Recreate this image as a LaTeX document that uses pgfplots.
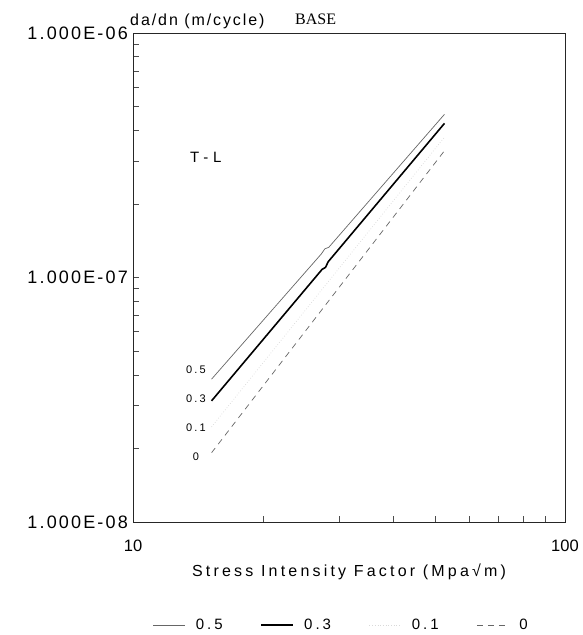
\documentclass[border=0pt]{standalone}
\usepackage{fontspec}
\setmainfont{Liberation Sans}
\newfontfamily\lsA[LetterSpace=12]{Liberation Sans}
\newfontfamily\lsB[LetterSpace=20]{Liberation Sans}
\newfontfamily\lsC[LetterSpace=32]{Liberation Sans}
\newfontfamily\lsD[LetterSpace=20]{Liberation Sans}
\newfontfamily\serifB{Liberation Serif}
\usepackage{pgfplots}
\pgfplotsset{compat=1.18}
\begin{document}
\begin{tikzpicture}[x=1pt,y=1pt]
\path[use as bounding box] (0,0) rectangle (583,635);
\begin{axis}[
  at={(133pt,113pt)}, anchor=south west,
  scale only axis, width=432pt, height=489pt,
  xmode=log, ymode=log,
  xmin=10, xmax=100, ymin=1e-8, ymax=1e-6,
  axis line style={line width=0.8pt, black!85},
  xtick={10,100}, xticklabels={10,100},
  ytick={1e-8,1e-7,1e-6}, yticklabels={1.000E-08,1.000E-07,1.000E-06},
  major tick length=0pt, minor tick length=6pt,
  tick align=inside, xtick pos=lower, ytick pos=left,
  minor tick style={black!70, line width=0.6pt},
  xticklabel style={font=\fontsize{16.5}{16.5}\selectfont, anchor=center, yshift=-24pt},
  yticklabel style={font=\lsA\fontsize{18}{18}\selectfont, anchor=east, inner sep=0pt, xshift=-5pt},
  legend style={at={(0.046,-0.2106)}, anchor=west, draw=none, fill=none, inner sep=0pt,
    font=\lsD\fontsize{15}{15}\selectfont,
    /tikz/every even column/.append style={column sep=36pt}},
  legend columns=4,
  legend image code/.code={\draw[#1] (0pt,0pt) -- (32pt,0pt);},
]
\addplot[black!60, line width=0.7pt] coordinates {(15.2,3.84e-8) (27.3,1.25e-7) (27.8,1.31e-7) (28.4,1.33e-7) (52.6,4.65e-7)};
\addlegendentry{\hspace{8pt}0.5}
\addplot[black, line width=1.6pt] coordinates {(15.2,3.13e-8) (27.4,1.08e-7) (27.9,1.10e-7) (28.3,1.16e-7) (52.6,4.27e-7)};
\addlegendentry{\hspace{8pt}0.3}
\addplot[black!15, line width=0.7pt, dotted] coordinates {(15.2,2.45e-8) (52.6,3.75e-7)};
\addlegendentry{\hspace{8pt}0.1}
\addplot[black!60, line width=0.7pt, dash pattern=on 6pt off 5pt] coordinates {(15.2,1.92e-8) (52.6,3.3e-7)};
\addlegendentry{\hspace{8pt}0}
\end{axis}
\node[anchor=base west, inner sep=0pt, font=\lsA\fontsize{16}{16}\selectfont] at (130,609) {da/dn (m/cycle)};
\node[anchor=base west, inner sep=0pt, font=\serifB\fontsize{16}{16}\selectfont] at (295,610) {BASE};
\node[anchor=base west, inner sep=0pt, font=\lsC\fontsize{15}{15}\selectfont] at (190,472) {T-L};
\node[anchor=center, inner sep=0pt, font=\lsD\fontsize{11}{11}\selectfont] at (196,265) {0.5};
\node[anchor=center, inner sep=0pt, font=\lsD\fontsize{11}{11}\selectfont] at (196,236) {0.3};
\node[anchor=center, inner sep=0pt, font=\lsD\fontsize{11}{11}\selectfont] at (196,207) {0.1};
\node[anchor=center, inner sep=0pt, font=\lsD\fontsize{11}{11}\selectfont] at (196,178.3) {0};
\node[anchor=base, inner sep=0pt, font=\lsB\fontsize{16}{16}\selectfont] at (349,58) {Stress Intensity Factor (Mpa√m)};
\end{tikzpicture}
\end{document}
